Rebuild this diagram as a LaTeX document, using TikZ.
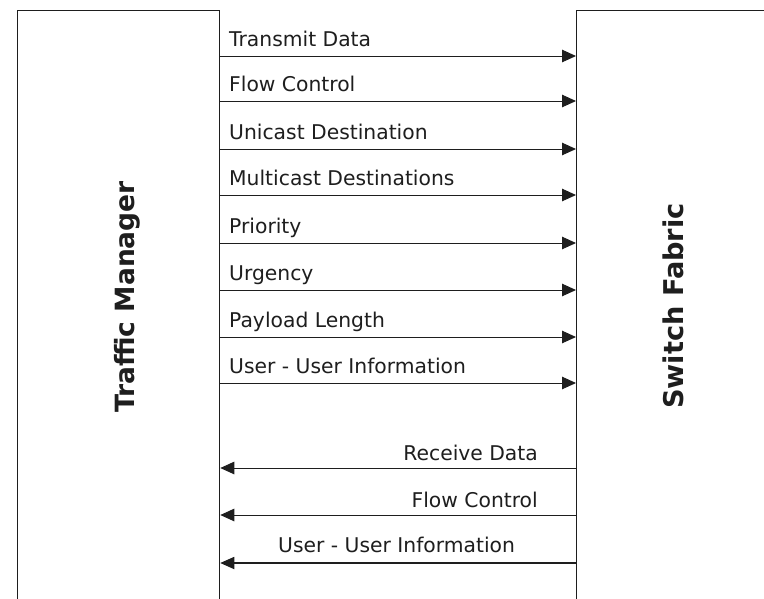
\documentclass[tikz,border=0pt]{standalone}
\usepackage{fontspec}
\usetikzlibrary{arrows.meta}
\newfontfamily\lblfont{DejaVu Sans}
\definecolor{ink}{HTML}{1E1E1E}
\tikzset{
  unitbox/.style={draw=ink, line width=1.3pt, fill=none, inner sep=0pt, anchor=north west},
  sig/.style={draw=ink, line width=1pt, -{Triangle[length=14pt,width=12.5pt]}},
  sigbold/.style={sig, line width=2.3pt, -{Triangle[length=14pt,width=12.5pt,line width=0pt]}},
  lbl/.style={inner sep=0pt, text=ink, font=\lblfont\fontsize{20.3}{24}\selectfont},
  title/.style={inner sep=0pt, rotate=90, anchor=base, text=ink, font=\lblfont\bfseries\fontsize{26.5}{30}\selectfont}
}
\begin{document}
\begin{tikzpicture}[x=1pt, y=-1pt]
  \useasboundingbox (0,0) rectangle (764,598);
  \fill[white] (0,0) rectangle (764,598);
  \clip (0,0) rectangle (764,598);

  % the two units; both run off the lower (and right) edge
  \node[unitbox, minimum width=202pt, minimum height=640pt] (tm) at (17,10) {};
  \node[unitbox, minimum width=220pt, minimum height=640pt] (sf) at (576,10) {};

  \node[title] (tmtitle) at (134,297) {Traffic Manager};
  \node[title, font=\lblfont\bfseries\fontsize{27.2}{30}\selectfont] (sftitle) at (683,306) {Switch Fabric};

  % signals from the traffic manager to the switch fabric
  \foreach \y/\txt [count=\i] in {56/Transmit Data, 101/Flow Control, 149/Unicast Destination,
      195/Multicast Destinations, 243/Priority, 290/Urgency, 337/Payload Length,
      383/User - User Information} {
    \draw[sig] (tm.east |- 0,\y) -- (sf.west |- 0,\y);
    \node[lbl, anchor=base west] (tx\i) at (229,\y-9.5) {\txt};
  }

  % signals from the switch fabric back to the traffic manager
  \draw[sig] (sf.west |- 0,468) -- (tm.east |- 0,468);
  \node[lbl, anchor=base east] (rx1) at (538,460) {Receive Data};
  \draw[sig] (sf.west |- 0,515) -- (tm.east |- 0,515);
  \node[lbl, anchor=base east] (rx2) at (538,507) {Flow Control};
  \draw[sigbold] (sf.west |- 0,563) -- (tm.east |- 0,563);
  \node[lbl, anchor=base west] (rx3) at (278,552) {User - User Information};
\end{tikzpicture}
\end{document}
